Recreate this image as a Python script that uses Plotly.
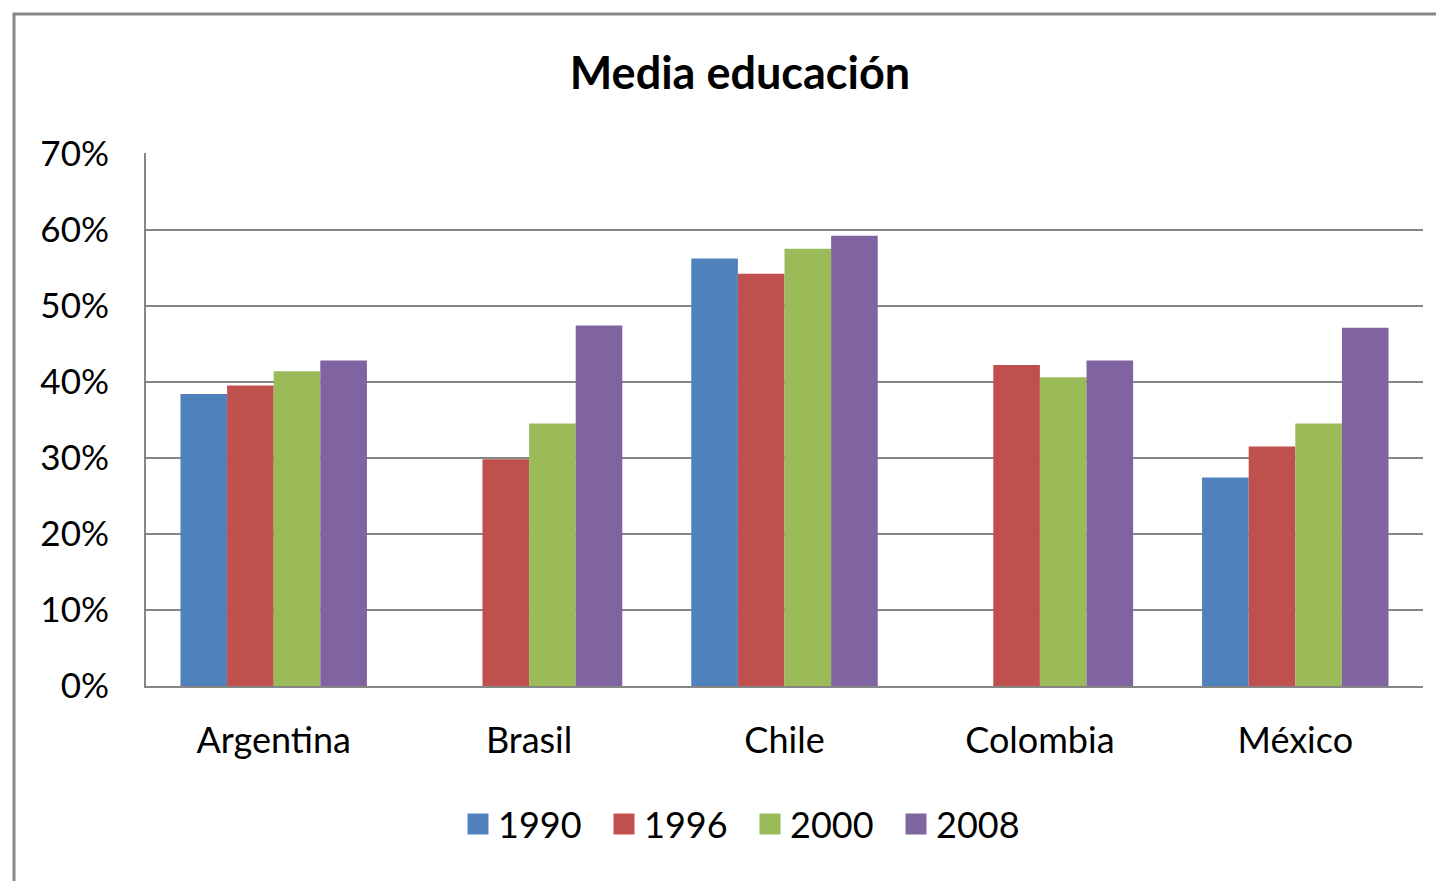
import plotly.graph_objects as go

countries = ["Argentina", "Brasil", "Chile", "Colombia", "México"]
years = ["1990", "1996", "2000", "2008"]
v1990 = [0.384, None, 0.562, None, 0.274]
v1996 = [0.395, 0.298, 0.542, 0.422, 0.315]
v2000 = [0.414, 0.345, 0.575, 0.406, 0.345]
v2008 = [0.428, 0.474, 0.592, 0.428, 0.471]
colors = ["#4F81BD", "#C0504D", "#9BBB59", "#8064A2"]

FONT = "Lato"
OFF = 8  # page body margin
fig = go.Figure()
for name, vals, c in zip(years, [v1990, v1996, v2000, v2008], colors):
    fig.add_trace(go.Bar(name=name, x=countries, y=vals, showlegend=False,
                         marker=dict(color=c, line=dict(width=0))))
for name, c in zip(years, colors):
    fig.add_trace(go.Scatter(name=name, x=[countries[0]], y=[None], mode="markers",
                             marker=dict(symbol="square", size=16, color=c,
                                         line=dict(color=c, width=5)),
                             showlegend=True))

W, H = 1444 - OFF, 881 - OFF
L, R, T, B = 146 - OFF, 21, 153 - OFF, 195
pw, ph = W - L - R, H - T - B

def px(x):
    return (x - OFF - L) / pw

def py(y):
    return (H - B - (y - OFF)) / ph

fig.update_layout(
    width=W, height=H,
    margin=dict(l=L, r=R, t=T, b=B),
    paper_bgcolor="white", plot_bgcolor="white",
    barmode="group", bargap=0.27, bargroupgap=0,
    font=dict(family=FONT, size=35, color="black"),
    title=dict(text="<b>Media educación</b>", x=(740 - OFF) / W, xanchor="center",
               y=1 - (73 - OFF) / H, yanchor="middle", font=dict(family=FONT, size=45, color="black")),
    showlegend=True,
    legend=dict(orientation="h", x=px(750), xanchor="center",
                y=py(824), yanchor="middle",
                font=dict(family=FONT, size=36), itemwidth=30, traceorder="normal",
                entrywidth=101, entrywidthmode="pixels"),
    xaxis=dict(showline=True, linecolor="#868686", linewidth=2, showgrid=False,
               ticks="", ticklabelstandoff=22, tickfont=dict(size=36)),
    yaxis=dict(range=[0, 0.7008], dtick=0.1, tickformat=".0%", showline=True, linecolor="#868686",
               linewidth=2, showgrid=True, gridcolor="#868686", gridwidth=2, zeroline=False,
               ticks="", ticklabelstandoff=28, tickfont=dict(size=35)),
    shapes=[dict(type="rect", xref="paper", yref="paper",
                 x0=px(14), x1=1.3, y0=-0.6, y1=py(14),
                 line=dict(color="#878787", width=3), fillcolor="rgba(0,0,0,0)", layer="below")],
)

fig.write_html("out.html")
